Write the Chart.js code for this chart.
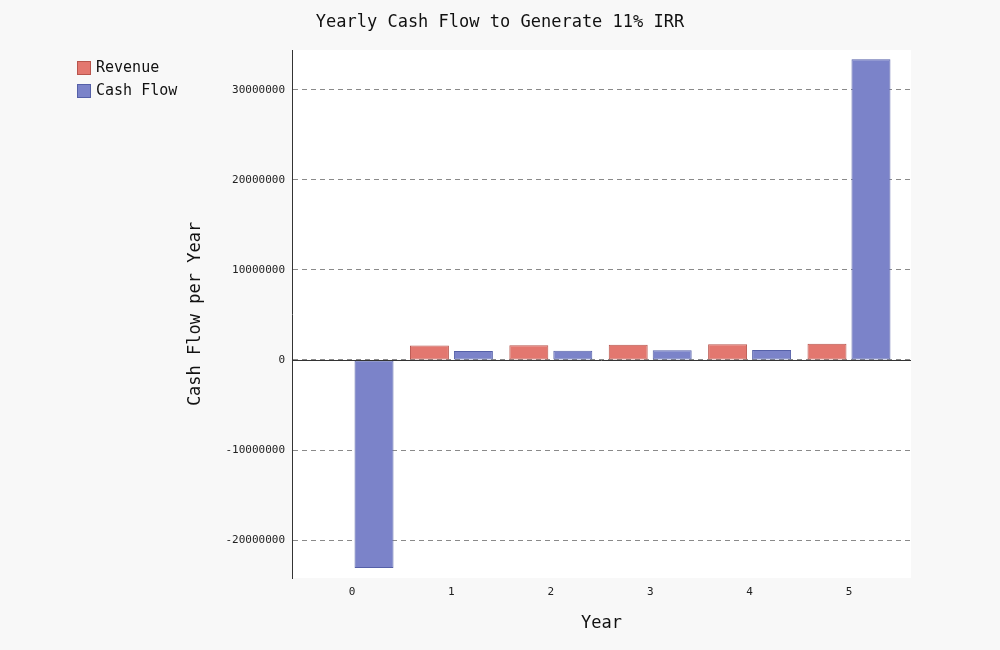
<!DOCTYPE html>
<html>
<head>
<meta charset="utf-8">
<script src="https://cdn.jsdelivr.net/npm/chart.js@4"></script>
<style>
  html, body { margin: 0; padding: 0; background: #f8f8f8; }
  #wrap { width: 1000px; height: 650px; }
</style>
</head>
<body>
<div id="wrap"><canvas id="grafico" width="1000" height="650"></canvas></div>
<script>
const years = [0, 1, 2, 3, 4, 5];
const revenue = [null, 1600000, 1650000, 1700000, 1760000, 1800000];
const cashFlow = [-23100000, 1000000, 1030000, 1070000, 1100000, 33400000];
const yTicks = [-20000000, -10000000, 0, 10000000, 20000000, 30000000];

const mono = "'DejaVu Sans Mono', monospace";

// fundo branco da área do gráfico + linha do zero + legenda
const extras = {
  id: 'extras',
  beforeDraw(chart) {
    const { ctx, chartArea: a } = chart;
    ctx.save();
    ctx.fillStyle = '#ffffff';
    ctx.fillRect(a.left, a.top, a.right - a.left, a.bottom - a.top);
    ctx.restore();
  },
  afterDatasetsDraw(chart) {
    const { ctx, chartArea: a } = chart;
    const y0 = Math.round(chart.scales.y.getPixelForValue(0)) + 0.5;
    ctx.save();
    ctx.strokeStyle = '#333';
    ctx.lineWidth = 1;
    ctx.beginPath();
    ctx.moveTo(a.left, y0);
    ctx.lineTo(a.right, y0);
    ctx.stroke();
    ctx.restore();
  },
  afterDraw(chart) {
    const ctx = chart.ctx;
    ctx.save();
    ctx.font = '15px ' + mono;
    ctx.textBaseline = 'middle';
    chart.data.datasets.forEach((ds, i) => {
      const y = 61 + i * 23;
      ctx.fillStyle = ds.backgroundColor;
      ctx.fillRect(77, y, 14, 14);
      ctx.strokeStyle = ds.borderColor;
      ctx.strokeRect(77.5, y + 0.5, 13, 13);
      ctx.fillStyle = '#111';
      ctx.fillText(ds.label, 96, y + 7);
    });
    ctx.restore();
  }
};

const ctx = document.getElementById('grafico').getContext('2d');
const grafico = new Chart(ctx, {
  type: 'bar',
  data: {
    datasets: [{
      label: 'Revenue',
      data: years.map((x, i) => ({ x: x, y: revenue[i] })),
      backgroundColor: '#e3776f',
      borderColor: '#b8554d',
      borderWidth: 1,
      borderSkipped: false
    }, {
      label: 'Cash Flow',
      data: years.map((x, i) => ({ x: x, y: cashFlow[i] })),
      backgroundColor: '#7b83c9',
      borderColor: '#5560a8',
      borderWidth: 1,
      borderSkipped: false
    }]
  },
  options: {
    responsive: false,
    animation: false,
    categoryPercentage: 0.885,
    barPercentage: 0.886,
    layout: { padding: { left: 89, right: 89, top: 0, bottom: 0 } },
    plugins: {
      legend: { display: false },
      tooltip: { enabled: false },
      title: {
        display: true,
        text: 'Yearly Cash Flow to Generate 11% IRR',
        color: '#111',
        font: { family: mono, size: 17, weight: 'normal' },
        padding: { top: 12, bottom: 17.6 }
      }
    },
    scales: {
      x: {
        type: 'linear',
        offset: false,
        min: -0.604,
        max: 5.624,
        afterFit(scale) { scale.height = 72; },
        afterBuildTicks(scale) { scale.ticks = years.map(v => ({ value: v })); },
        grid: { display: false, drawTicks: false },
        border: { display: false },
        ticks: {
          color: '#222',
          font: { family: mono, size: 11 },
          padding: 8,
          callback: v => String(v)
        },
        title: {
          display: true,
          text: 'Year',
          color: '#111',
          font: { family: mono, size: 17 },
          padding: { top: 0, bottom: 16 }
        }
      },
      y: {
        min: -24220000,
        max: 34440000,
        afterFit(scale) { scale.width = 203; },
        afterBuildTicks(scale) { scale.ticks = yTicks.map(v => ({ value: v })); },
        grid: { color: '#8a8a8a', lineWidth: 1, drawTicks: false },
        border: { display: true, color: '#333', width: 1, dash: [5, 4] },
        ticks: {
          color: '#222',
          font: { family: mono, size: 11 },
          padding: 7,
          callback: v => String(v)
        },
        title: {
          display: true,
          text: 'Cash Flow per Year',
          color: '#111',
          font: { family: mono, size: 17 },
          padding: { top: 96, bottom: 0 }
        }
      }
    }
  },
  plugins: [extras]
});
</script>
</body>
</html>
